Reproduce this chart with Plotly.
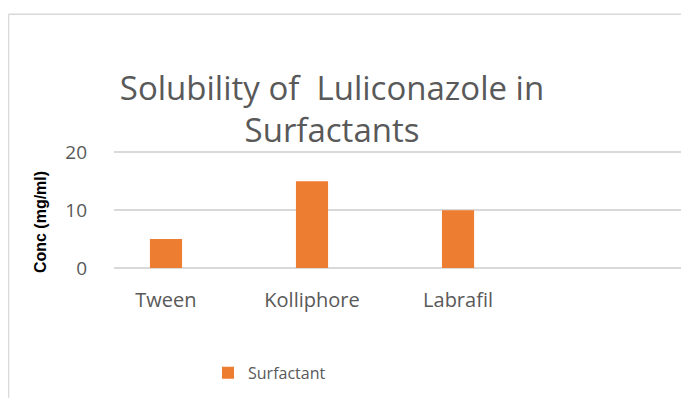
import plotly.graph_objects as go

# solubility data
surfactants = ['Tween', 'Kolliphore', 'Labrafil']
conc = [5, 15, 10]
series_name = 'Surfactant'
y_ticks = [0, 10, 20]

# the page body has an 8px margin, so the figure is drawn 8px smaller
W, H = 673, 390
plot_l, plot_t, plot_b = 106, 141.7, 260
plot_w, plot_h = W - plot_l, plot_b - plot_t

fig = go.Figure()
fig.add_trace(go.Bar(x=surfactants, y=conc, name=series_name,
                     marker=dict(color='#ED7D31', line=dict(width=0)),
                     width=0.22, showlegend=True))

# chart frame: only the left and top edges are inside the picture
bx = (0.5 - plot_l) / plot_w
by = (plot_b - 5.5) / plot_h
frame = dict(color='#d9d9d9', width=1.5)

fig.update_layout(
    width=W, height=H,
    paper_bgcolor='white', plot_bgcolor='white',
    margin=dict(l=plot_l, r=0, t=plot_t, b=H - plot_b, autoexpand=False),
    font=dict(family='Open Sans', color='#595959'),
    title=dict(text='Solubility of  Luliconazole in<br>Surfactants',
               font=dict(family='Open Sans', size=33, color='#595959'),
               x=324 / W, xanchor='center', y=1 - 91.5 / H, yanchor='middle'),
    xaxis=dict(type='category', range=[-0.356, 3.527], showgrid=False,
               showline=False, ticks='', tickfont=dict(size=20, color='#595959'),
               ticklabelstandoff=18),
    yaxis=dict(range=[0, 20.4], tickvals=y_ticks, showgrid=True,
               gridcolor='#d9d9d9', gridwidth=1.5, zeroline=True,
               zerolinecolor='#d9d9d9', zerolinewidth=1.5,
               tickfont=dict(size=19, color='#595959'), ticklabelstandoff=26),
    legend=dict(x=(200 - plot_l) / plot_w, xanchor='left',
                y=(plot_b - 365) / plot_h, yanchor='middle',
                font=dict(size=16, color='#595959'), bgcolor='rgba(0,0,0,0)'),
    annotations=[dict(text='<b>Conc (mg/ml)</b>', textangle=-90, showarrow=False,
                      xref='paper', yref='paper',
                      x=(32 - plot_l) / plot_w, y=(plot_b - 214) / plot_h,
                      xanchor='center', yanchor='middle',
                      font=dict(family='Liberation Sans', size=16, color='black'))],
    shapes=[dict(type='line', xref='paper', yref='paper',
                 x0=bx, x1=bx, y0=-1.5, y1=by, line=frame, layer='below'),
            dict(type='line', xref='paper', yref='paper',
                 x0=bx, x1=1.2, y0=by, y1=by, line=frame, layer='below')],
)

fig.write_html('out.html')
